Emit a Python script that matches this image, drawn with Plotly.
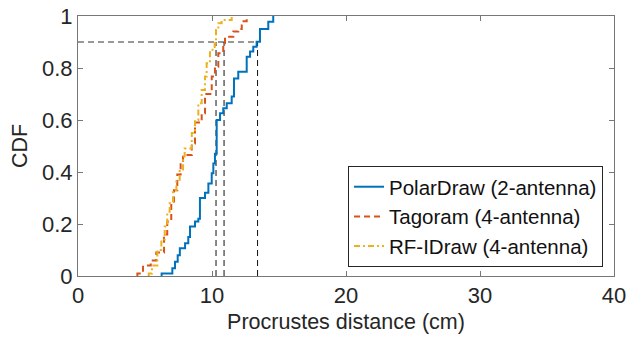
import plotly.graph_objects as go

# ---- data (step CDFs) ----
polar_x = [6.24, 7.04, 7.24, 7.44, 7.6, 7.99, 8.23, 8.36, 8.73, 8.98, 9.1, 9.48, 9.73, 9.98,
           10.1, 10.22, 10.35, 10.6, 10.84, 11.1, 11.47, 11.64, 11.96, 12.59, 12.84, 13.08,
           13.33, 13.58, 14.2, 14.57]
polar_y = [0.01, 0.03, 0.055, 0.08, 0.107, 0.126, 0.15, 0.19, 0.21, 0.22, 0.30, 0.32, 0.356,
           0.395, 0.433, 0.47, 0.6, 0.626, 0.645, 0.664, 0.69, 0.76, 0.786, 0.843, 0.863,
           0.882, 0.901, 0.95, 0.978, 1.0]

tago_x = [4.43, 4.85, 5.43, 5.84, 6.42, 6.66, 6.96, 7.16, 7.41, 7.66, 7.84, 8.49, 8.73, 9.23,
          9.48, 9.98, 10.22, 10.47, 10.84, 10.97, 11.59, 11.96, 12.22, 12.59]
tago_y = [0.01, 0.04, 0.06, 0.09, 0.16, 0.21, 0.28, 0.33, 0.39, 0.43, 0.465, 0.51, 0.59, 0.626,
          0.70, 0.767, 0.805, 0.857, 0.895, 0.92, 0.94, 0.95, 0.98, 1.0]

rfid_x = [5.28, 5.52, 5.92, 6.22, 6.47, 6.66, 6.84, 7.09, 7.34, 7.59, 7.84, 7.96, 8.49, 8.73,
          8.98, 9.23, 9.48, 9.6, 9.85, 10.2, 10.3, 10.47, 10.72, 11.47]
rfid_y = [0.01, 0.04, 0.10, 0.14, 0.19, 0.247, 0.28, 0.33, 0.37, 0.41, 0.46, 0.49, 0.55, 0.6,
          0.664, 0.715, 0.767, 0.818, 0.87, 0.895, 0.946, 0.972, 0.985, 1.0]

series_names = ["PolarDraw (2-antenna)", "Tagoram (4-antenna)", "RF-IDraw (4-antenna)"]
p90_x = [13.4, 10.9, 10.3]
p90_level = 0.9

x_ticks = [0, 10, 20, 30, 40]
y_ticks = [0, 0.2, 0.4, 0.6, 0.8, 1]
y_tick_text = ["0", "0.2", "0.4", "0.6", "0.8", "1"]

fig = go.Figure()

# reference dashed lines (90th percentile)
fig.add_trace(go.Scatter(x=[0, max(p90_x)], y=[p90_level, p90_level], mode="lines",
                         line=dict(color="#333333", width=1, dash="6px,4px"),
                         showlegend=False, hoverinfo="skip"))
for px in p90_x:
    fig.add_trace(go.Scatter(x=[px, px], y=[0, p90_level], mode="lines",
                             line=dict(color="#111111", width=1, dash="6px,4px"),
                             showlegend=False, hoverinfo="skip"))

def step(xs, ys):
    return [xs[0]] + list(xs), [0] + list(ys)

for xs, ys, name, color, dash in [
    (polar_x, polar_y, series_names[0], "#0072BD", "solid"),
    (tago_x, tago_y, series_names[1], "#D95319", "6px,4px"),
    (rfid_x, rfid_y, series_names[2], "#EDB120", "6px,3px,2px,3px"),
]:
    sx, sy = step(xs, ys)
    fig.add_trace(go.Scatter(x=sx, y=sy, mode="lines", name=name, line_shape="hv",
                             line=dict(color=color, width=2, dash=dash)))

axis_common = dict(showgrid=False, zeroline=False, showline=True, linecolor="#777777",
                   linewidth=1, mirror="ticks", ticks="inside", ticklen=5, tickcolor="#777777",
                   automargin=False,
                   tickfont=dict(size=22, color="#262626"))

fig.update_layout(
    width=628, height=343,
    margin=dict(l=78, r=14, t=16, b=67),
    plot_bgcolor="white", paper_bgcolor="white",
    font=dict(family="Liberation Sans, Arial, sans-serif", color="#262626"),
    xaxis=dict(range=[0, 40], tickvals=x_ticks,
               title=dict(text="Procrustes distance (cm)", font=dict(size=21.5), standoff=6),
               **axis_common),
    yaxis=dict(range=[0, 1], tickvals=y_ticks, ticktext=y_tick_text,
               title=dict(text="CDF", font=dict(size=21.5), standoff=8),
               **axis_common),
    legend=dict(x=0.9795, y=0.035, xanchor="right", yanchor="bottom",
                bgcolor="white", bordercolor="#262626", borderwidth=1,
                font=dict(size=20.5, color="#111111"), itemwidth=30,
                tracegroupgap=0),
    showlegend=True,
)

fig.write_html("out.html")
